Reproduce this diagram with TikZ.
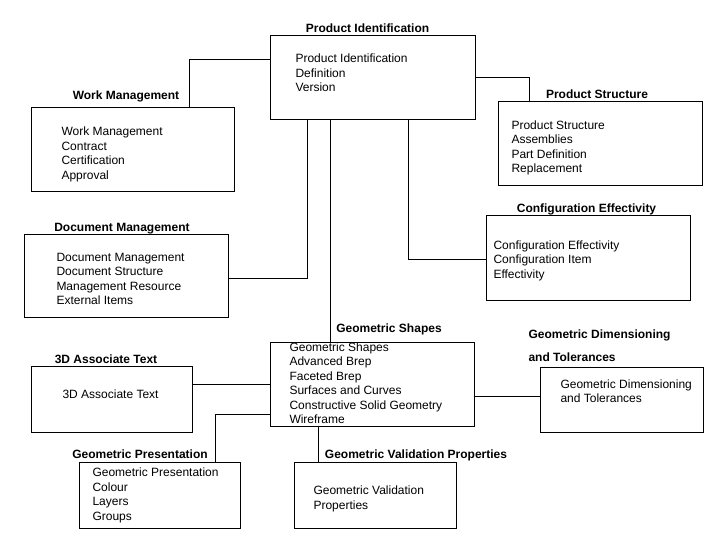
\documentclass[tikz,border=0pt]{standalone}
\usepackage{fontspec}
\setmainfont{Liberation Sans}
\usetikzlibrary{positioning}

\def\module#1#2#3#4#5{
	\node [module, minimum width=#4pt, minimum height=#5pt] 
		(#1) at (#2,#3) {};
}

\begin{document}
\begin{tikzpicture}[x=1pt,y=-1pt,line width=1pt]
	\useasboundingbox (0,0) rectangle (720,540);

	\tikzstyle{module}=[draw,rectangle,anchor=north west,inner sep=0pt,outer sep=0pt]
	\tikzstyle{heading}=[anchor=base,inner sep=0pt,font=\fontsize{12}{14.5}\selectfont\bfseries]
	\tikzstyle{items}=[anchor=north west,inner sep=0pt,align=left,
		font=\fontsize{12}{14.5}\selectfont]

	% the modules
	\module{pid}{270}{36}{205}{84}
	\module{work}{31}{108}{203}{84}
	\module{struct}{498}{102}{204}{84}
	\module{config}{486}{216}{204}{84}
	\module{doc}{24}{234}{204}{83}
	\module{shapes}{270}{342}{204}{84}
	\module{assoc}{31}{366}{161}{66}
	\module{pres}{79}{462}{161}{66}
	\module{valid}{294}{462}{162}{66}
	\module{gdt}{540}{367}{163}{65}

	% headings
	\node[heading] (pid-head) at (367.5,32.5) {Product Identification};
	\node[heading] (work-head) at (126,99.5) {Work Management};
	\node[heading] (struct-head) at (597,99) {Product Structure};
	\node[heading] (config-head) at (586.5,213) {Configuration Effectivity};
	\node[heading] (doc-head) at (122,231) {Document Management};
	\node[heading] (shapes-head) at (389,332) {Geometric Shapes};
	\node[heading] (assoc-head) at (106,363) {3D Associate Text};
	\node[heading] (pres-head) at (140,458) {Geometric Presentation};
	\node[heading] (valid-head) at (416,458) {Geometric Validation Properties};
	\node[heading,anchor=base west] (gdt-head) at (528,338) {Geometric Dimensioning};
	\node[heading,anchor=base west] (gdt-head2) at (528,361) {and Tolerances};

	% contents
	\node[items] (pid-items) at (295,53.5) {Product Identification\\Definition\\Version};
	\node[items] (work-items) at (61,126.5) {Work Management\\Contract\\Certification\\Approval};
	\node[items] (struct-items) at (511,120) {Product Structure\\Assemblies\\Part Definition\\Replacement};
	\node[items] (config-items) at (493,240) {Configuration Effectivity\\Configuration Item\\Effectivity};
	\node[items] (doc-items) at (56,252.5) {Document Management\\Document Structure\\Management Resource\\External Items};
	\node[items] (shapes-items) at (289,342) {Geometric Shapes\\Advanced Brep\\Faceted Brep\\Surfaces and Curves\\Constructive Solid Geometry\\Wireframe};
	\node[items] (assoc-items) at (62,389) {3D Associate Text};
	\node[items] (pres-items) at (92,467.5) {Geometric Presentation\\Colour\\Layers\\Groups};
	\node[items] (valid-items) at (313,485.5) {Geometric Validation\\Properties};
	\node[items] (gdt-items) at (560,379) {Geometric Dimensioning\\and Tolerances};

	% redraw the shapes frame over its first line
	\draw (shapes.north west) -- (shapes.north east);

	% connectors
	\draw (pid.west |- 0,60) -| (work.north -| 189,0);
	\draw (pid.east |- 0,78) -| (struct.north -| 529,0);
	\draw (pid.south -| 307,0) |- (doc.east |- 0,278);
	\draw (pid.south -| 330,0) -- (shapes.north -| 330,0);
	\draw (pid.south -| 408,0) |- (config.west |- 0,259);
	\draw (shapes.west |- 0,384) -- (assoc.east |- 0,384);
	\draw (shapes.west |- 0,414) -| (pres.north -| 215,0);
	\draw (shapes.south -| 318,0) -- (valid.north -| 318,0);
	\draw (shapes.east |- 0,396) -- (gdt.west |- 0,396);
\end{tikzpicture}
\end{document}
